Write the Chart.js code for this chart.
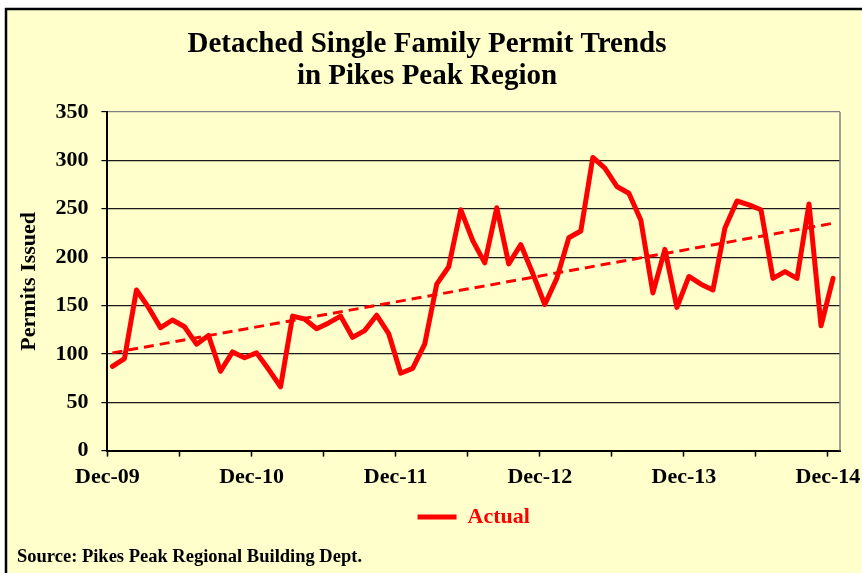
<!DOCTYPE html>
<html>
<head>
<meta charset="utf-8">
<script src="https://cdn.jsdelivr.net/npm/chart.js@4.4.0/dist/chart.umd.min.js"></script>
<style>
  body { margin: 0; background: #ffffff; }
  canvas { display: block; }
</style>
</head>
<body>
<canvas id="permitChart" width="862" height="573"></canvas>
<script>
// monthly permits issued, Dec-09 through Dec-14
const permits = [87, 95, 166, 148, 127, 135, 128, 110, 119, 82, 102, 96,
    101, 84, 66, 139, 136, 126, 132, 139, 117, 124, 140, 121,
    80, 85, 110, 172, 190, 249, 217, 194, 251, 193, 213, 183,
    151, 178, 220, 227, 303, 292, 273, 266, 238, 163, 208, 148,
    180, 172, 166, 230, 258, 254, 249, 178, 185, 178, 255, 129,
    178]

// linear trend line, read at the first and last month
const trendMonths = [0, 60]
const trendValues = [101, 235]

const tickLabels = ["Dec-09", "Dec-10", "Dec-11", "Dec-12", "Dec-13", "Dec-14"]
const yTicks = [0, 50, 100, 150, 200, 250, 300, 350]

// points sit a little after the start of their month on the date axis
const monthOffset = 0.42

const serif = "'Liberation Serif', 'Times New Roman', serif"
Chart.defaults.font.family = serif

const actualData = permits.map((v, i) => ({ x: i + monthOffset, y: v }))
const trendData = trendMonths.map((m, i) => ({ x: m + monthOffset, y: trendValues[i] }))

const frame = {
    id: "frame",
    beforeDraw(chart) {
        const ctx = chart.ctx
        ctx.save()
        ctx.fillStyle = "#ffffff"
        ctx.fillRect(0, 0, chart.width, chart.height)
        ctx.fillStyle = "#ffffcc"
        ctx.fillRect(6, 10, chart.width - 6, chart.height - 10)
        ctx.strokeStyle = "#000000"
        ctx.lineWidth = 2.5
        ctx.beginPath()
        ctx.moveTo(5, 9)
        ctx.lineTo(chart.width, 9)
        ctx.moveTo(6, 8)
        ctx.lineTo(6, chart.height)
        ctx.stroke()
        ctx.restore()
    },
    afterDraw(chart) {
        const ctx = chart.ctx
        const area = chart.chartArea
        ctx.save()
        // grey right edge of the plot area
        ctx.strokeStyle = "#808080"
        ctx.lineWidth = 1.5
        ctx.beginPath()
        ctx.moveTo(area.right, area.top)
        ctx.lineTo(area.right, area.bottom)
        ctx.stroke()
        // source note
        ctx.fillStyle = "#000000"
        ctx.font = "bold 18.5px " + serif
        ctx.textBaseline = "middle"
        ctx.textAlign = "left"
        ctx.fillText("Source: Pikes Peak Regional Building Dept.", 17, 557)
        ctx.restore()
    }
}

new Chart(document.getElementById("permitChart"), {
    type: "line",
    data: {
        datasets: [{
            label: "Trend",
            data: trendData,
            borderColor: "#ff0000",
            borderWidth: 3,
            borderDash: [10, 6],
            pointRadius: 0,
            fill: false
        }, {
            label: "Actual",
            data: actualData,
            borderColor: "#ff0000",
            backgroundColor: "#ff0000",
            borderWidth: 5,
            borderJoinStyle: "round",
            borderCapStyle: "round",
            pointRadius: 0,
            tension: 0,
            fill: false
        }]
    },
    options: {
        responsive: false,
        animation: false,
        layout: {
            padding: { left: 0, right: 8, top: 10, bottom: 35 }
        },
        scales: {
            x: {
                type: "linear",
                min: 0,
                max: 61,
                afterBuildTicks: (scale) => {
                    scale.ticks = scale.ticks.filter(t => t.value % 6 === 0)
                },
                afterFit: (scale) => {
                    // let the last label run off the right edge like the original
                    scale.paddingRight = 22
                },
                ticks: {
                    stepSize: 6,
                    includeBounds: false,
                    autoSkip: false,
                    maxRotation: 0,
                    padding: 8,
                    color: "#000000",
                    font: { size: 22, weight: "bold" },
                    callback: (value) => value % 12 === 0 ? tickLabels[value / 12] : ""
                },
                grid: {
                    drawOnChartArea: false,
                    tickLength: 6,
                    tickColor: "#000000",
                    tickWidth: 1.5
                },
                border: { color: "#000000", width: 2 }
            },
            y: {
                min: yTicks[0],
                max: yTicks[yTicks.length - 1],
                ticks: {
                    stepSize: 50,
                    padding: 13,
                    color: "#000000",
                    font: { size: 22, weight: "bold" }
                },
                grid: {
                    color: (ctx) => ctx.tick && ctx.tick.value === 350 ? "#808080" : "#1a1a1a",
                    lineWidth: 1.2,
                    tickLength: 6,
                    tickColor: "#000000"
                },
                border: { color: "#000000", width: 2 },
                title: {
                    display: true,
                    text: "Permits Issued",
                    color: "#000000",
                    font: { size: 22, weight: "bold" },
                    padding: { top: 16, bottom: 0 }
                }
            }
        },
        plugins: {
            title: {
                display: true,
                text: ["Detached Single Family Permit Trends", "in Pikes Peak Region"],
                color: "#000000",
                font: { size: 29, weight: "bold", lineHeight: 1.1 },
                padding: { top: 18.5, bottom: 19.7 }
            },
            legend: {
                position: "bottom",
                fullSize: false,
                labels: {
                    filter: (item) => item.text === "Actual",
                    usePointStyle: true,
                    pointStyle: "line",
                    pointStyleWidth: 39,
                    color: "#ff0000",
                    padding: 7,
                    font: { size: 22, weight: "bold" }
                }
            },
            tooltip: { enabled: false }
        }
    },
    plugins: [frame]
})
</script>
</body>
</html>
